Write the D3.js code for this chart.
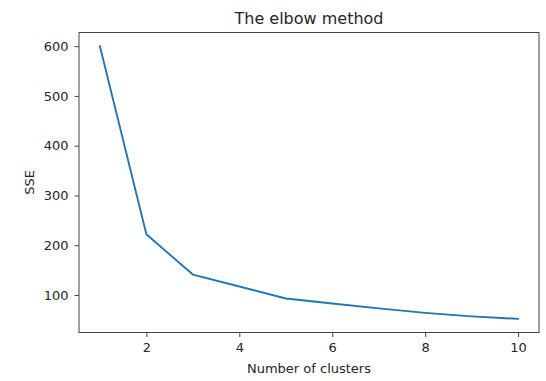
<!DOCTYPE html>
<html>
<head>
    <title>The elbow method</title>
    <script src="https://d3js.org/d3.v7.min.js"></script>
    <style>
        body, html {
            margin: 0;
            background: #fff;
        }
        text {
            font-family: "DejaVu Sans", sans-serif;
            fill: #262626;
        }
    </style>
</head>
<body>
<div id="chart"></div>
<script>
    // data
    const clusters = [1, 2, 3, 4, 5, 6, 7, 8, 9, 10];
    const sse = [600, 222, 141, 117, 93, 83, 73, 64, 57, 52];
    const xTicks = [2, 4, 6, 8, 10];
    const yTicks = [100, 200, 300, 400, 500, 600];

    const width = 546,
          height = 381;
    // plot box (top is reserved by window, so use plotTop etc.)
    const plotLeft = 79, plotRight = 539, plotTop = 32.5, plotBottom = 332.5;

    const svg = d3.select("#chart")
                  .append("svg")
                  .attr("width", width)
                  .attr("height", height);

    // matplotlib style 5% margins
    const xMin = d3.min(clusters), xMax = d3.max(clusters);
    const xPad = (xMax - xMin) * 0.05;
    const yMin = d3.min(sse), yMax = d3.max(sse);
    const yPad = (yMax - yMin) * 0.05;

    const x = d3.scaleLinear().domain([xMin - xPad, xMax + xPad]).range([plotLeft, plotRight]);
    const y = d3.scaleLinear().domain([yMin - yPad, yMax + yPad]).range([plotBottom, plotTop]);

    // axes
    const xAxis = svg.append("g")
        .attr("transform", `translate(0,${plotBottom})`)
        .call(d3.axisBottom(x).tickValues(xTicks).tickSize(4.5).tickPadding(5.5));
    const yAxis = svg.append("g")
        .attr("transform", `translate(${plotLeft},0)`)
        .call(d3.axisLeft(y).tickValues(yTicks).tickSize(4.5).tickPadding(6));

    [xAxis, yAxis].forEach(g => {
        g.select(".domain").remove();
        g.selectAll(".tick line").attr("stroke", "#444").attr("stroke-width", 1);
        g.selectAll(".tick text")
         .style("font-family", "'DejaVu Sans', sans-serif")
         .style("font-size", "13px")
         .attr("fill", "#262626");
    });

    // frame
    svg.append("rect")
       .attr("x", plotLeft)
       .attr("y", plotTop)
       .attr("width", plotRight - plotLeft)
       .attr("height", plotBottom - plotTop)
       .attr("fill", "none")
       .attr("stroke", "#444")
       .attr("stroke-width", 1);

    // the line
    const line = d3.line()
        .x((d, i) => x(clusters[i]))
        .y(d => y(d));

    svg.append("path")
       .datum(sse)
       .attr("d", line)
       .attr("fill", "none")
       .attr("stroke", "#1f77b4")
       .attr("stroke-width", 1.9)
       .attr("stroke-linejoin", "round")
       .attr("stroke-linecap", "square");

    // labels
    svg.append("text")
       .attr("x", (plotLeft + plotRight) / 2)
       .attr("y", 24)
       .attr("text-anchor", "middle")
       .style("font-size", "16px")
       .text("The elbow method");

    svg.append("text")
       .attr("x", (plotLeft + plotRight) / 2)
       .attr("y", 373)
       .attr("text-anchor", "middle")
       .style("font-size", "13px")
       .text("Number of clusters");

    svg.append("text")
       .attr("transform", `translate(33.5,${(plotTop + plotBottom) / 2}) rotate(-90)`)
       .attr("text-anchor", "middle")
       .style("font-size", "13px")
       .text("SSE");
</script>
</body>
</html>
